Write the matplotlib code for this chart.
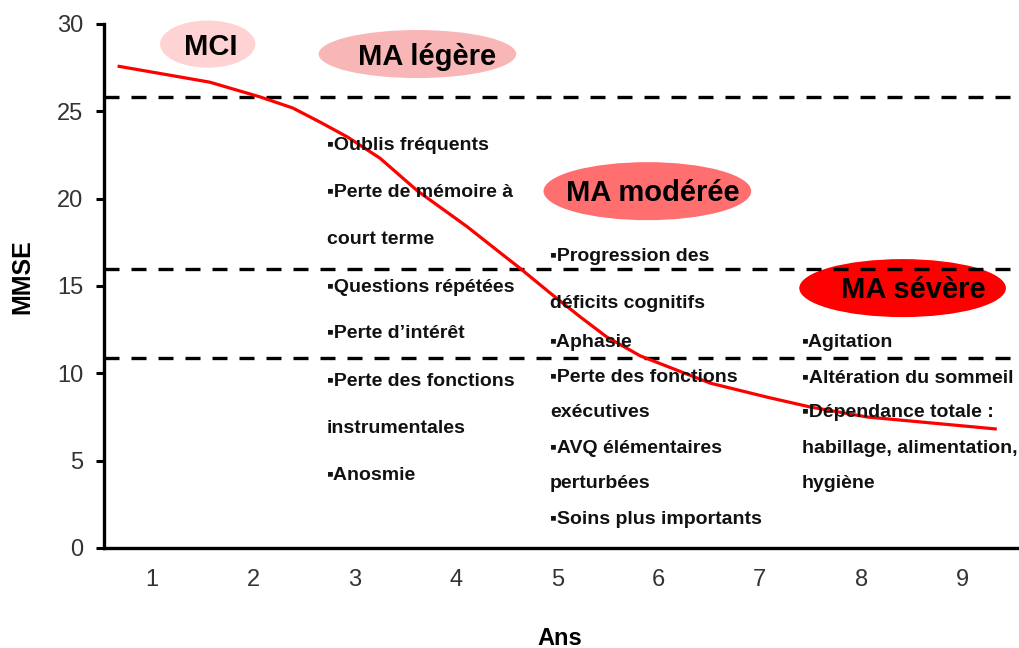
import matplotlib
matplotlib.use("Agg")
import matplotlib.pyplot as plt
from matplotlib.patches import Ellipse

plt.rcParams['font.family'] = ['Liberation Sans', 'DejaVu Sans']

# ---- data ----
years = [0.66, 1.57, 2.07, 2.39, 2.66, 2.93, 3.25, 3.62, 4.11, 4.44, 4.63,
         4.93, 5.23, 5.49, 5.82, 6.51, 7.07, 7.50, 8.06, 9.34]
mmse = [27.59, 26.67, 25.82, 25.19, 24.38, 23.53, 22.32, 20.45, 18.40, 16.89, 16.03,
        14.60, 13.22, 12.08, 11.00, 9.44, 8.64, 8.07, 7.50, 6.81]

thresholds = [25.8, 16.0, 10.9]

x_ticks = [1, 2, 3, 4, 5, 6, 7, 8, 9]
y_ticks = [0, 5, 10, 15, 20, 25, 30]

stage_names = ["MCI", "MA légère", "MA modérée", "MA sévère"]
stage_colors = ["#FFD3D3", "#F9B6B6", "#FF6F6F", "#FF0000"]

col3_lines = ["▪Oublis fréquents", "▪Perte de mémoire à", "court terme",
              "▪Questions répétées", "▪Perte d’intérêt", "▪Perte des fonctions",
              "instrumentales", "▪Anosmie"]
col5_lines = ["▪Progression des", "déficits cognitifs", "▪Aphasie",
              "▪Perte des fonctions", "exécutives", "▪AVQ élémentaires",
              "perturbées", "▪Soins plus importants"]
col8_lines = ["▪Agitation", "▪Altération du sommeil", "▪Dépendance totale :",
              "habillage, alimentation,", "hygiène"]

# ---- layout ----
ell_centers = [(1.55, 28.85), (3.62, 28.28), (5.89, 20.43), (8.41, 14.88)]
ell_sizes = [(0.94, 2.7), (1.95, 2.75), (2.05, 3.32), (2.04, 3.32)]
title_pos = [(1.58, 28.23), (3.72, 27.65), (5.94, 19.86), (8.52, 14.31)]

col3_x, col3_y = 2.727, [22.78, 20.09, 17.40, 14.65, 12.02, 9.27, 6.58, 3.89]
col5_x, col5_y = 4.93, [16.43, 13.74, 11.51, 9.50, 7.50, 5.44, 3.43, 1.37]
col8_x, col8_y = 7.417, [11.51, 9.44, 7.50, 5.44, 3.43]

fig = plt.figure(figsize=(10.2, 6.48), dpi=100)
ax = fig.add_axes([104/1020, 100/648, 1 - 104/1020, (548-24)/648])
ax.set_xlim(0.526, 9.569)
ax.set_ylim(0, 30)

for c, s, name, col, tp in zip(ell_centers, ell_sizes, stage_names, stage_colors, title_pos):
    e = Ellipse(c, s[0], s[1], facecolor=col, edgecolor='none', zorder=1, clip_on=False)
    ax.add_patch(e)
    ax.text(tp[0], tp[1], name, ha='center', va='baseline', fontsize=21,
            fontweight='bold', color='black', zorder=5, clip_on=False)

for t in thresholds:
    ax.axhline(t, color='black', lw=2.4, linestyle=(0, (4.5, 3.6)), zorder=2)

ax.plot(years, mmse, color='#FF0000', lw=2.3, zorder=3, solid_capstyle='butt',
        solid_joinstyle='round')

for xs, ys, lines in [(col3_x, col3_y, col3_lines), (col5_x, col5_y, col5_lines),
                      (col8_x, col8_y, col8_lines)]:
    for y, line in zip(ys, lines):
        ax.text(xs, y, line, ha='left', va='baseline', fontsize=14,
                fontweight='bold', color='#111111', zorder=4, clip_on=False)

ax.set_xticks(x_ticks)
ax.set_yticks(y_ticks)
ax.tick_params(axis='x', length=0, pad=15, labelsize=17, labelcolor='#333333')
ax.tick_params(axis='y', length=6, width=2.2, pad=9, labelsize=17, labelcolor='#333333')
for sp in ['top', 'right']:
    ax.spines[sp].set_visible(False)
for sp in ['left', 'bottom']:
    ax.spines[sp].set_linewidth(2.4)

fig.text(22/1020, 1 - 277/648, "MMSE", rotation=90, ha='center', va='center',
         fontsize=18, fontweight='bold')
fig.text(560/1020, 1 - 645/648, "Ans", ha='center', va='baseline',
         fontsize=17, fontweight='bold')

fig.savefig("out.png", dpi=100, facecolor='white')
